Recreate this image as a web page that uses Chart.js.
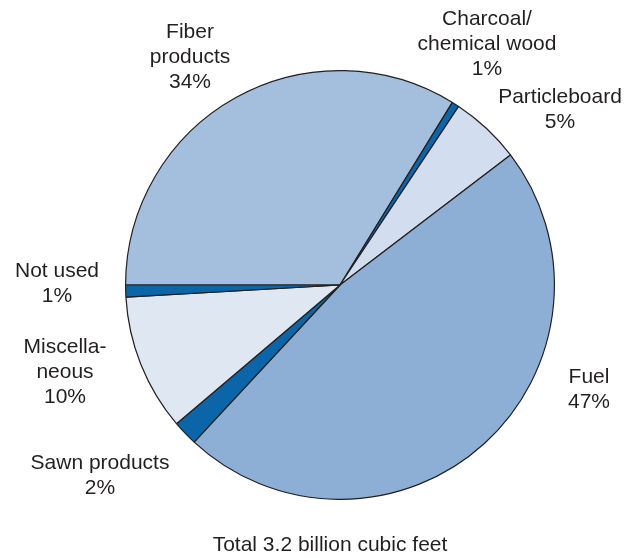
<!DOCTYPE html>
<html>
<head>
<meta charset="utf-8">
<script src="https://cdn.jsdelivr.net/npm/chart.js@4/dist/chart.umd.min.js"></script>
<style>
  html, body { margin: 0; padding: 0; background: #fff; }
  canvas { display: block; }
</style>
</head>
<body>
<canvas id="woodChart" width="636" height="558"></canvas>
<script>
const categories = ["Fiber products", "Charcoal/chemical wood", "Particleboard", "Fuel", "Sawn products", "Miscellaneous", "Not used"];
const shares = [33.8, 0.55, 5.3, 47.3, 1.9, 10.3, 0.9];
const shareLabels = ["34%", "1%", "5%", "47%", "2%", "10%", "1%"];
const colors = ["#a4bedd", "#0a66a8", "#d2deef", "#8dafd6", "#0a66a8", "#dee7f2", "#0a66a8"];
const caption = "Total 3.2 billion cubic feet";

// label text lines + where they sit
const labelLines = [
  ["Fiber", "products", "34%"],
  ["Charcoal/", "chemical wood", "1%"],
  ["Particleboard", "5%"],
  ["Fuel", "47%"],
  ["Sawn products", "2%"],
  ["Miscella-", "neous", "10%"],
  ["Not used", "1%"]
];
const labelPos = [[190, 32], [487, 19], [560, 97], [589, 377], [100, 463], [65, 347], [57, 271]];

const labelPlugin = {
  id: "pieLabels",
  afterDraw(chart) {
    const ctx = chart.ctx;
    ctx.save();
    ctx.fillStyle = "#231f20";
    ctx.font = "21px 'Liberation Sans', Arial, sans-serif";
    ctx.textAlign = "center";
    ctx.textBaseline = "middle";
    labelLines.forEach((lines, i) => {
      lines.forEach((t, j) => {
        ctx.fillText(t, labelPos[i][0], labelPos[i][1] + j * 25);
      });
    });
    ctx.fillText(caption, 330, 545);
    ctx.restore();
  }
};

new Chart(document.getElementById("woodChart").getContext("2d"), {
  type: "pie",
  data: {
    labels: categories,
    datasets: [{
      data: shares,
      backgroundColor: colors,
      borderColor: "#231f20",
      borderWidth: 1.2
    }]
  },
  options: {
    responsive: false,
    animation: false,
    rotation: 270,
    layout: { padding: { top: 70, bottom: 58, left: 125, right: 81 } },
    plugins: {
      legend: { display: false },
      tooltip: { enabled: false },
      title: { display: false }
    }
  },
  plugins: [labelPlugin]
});
</script>
</body>
</html>
